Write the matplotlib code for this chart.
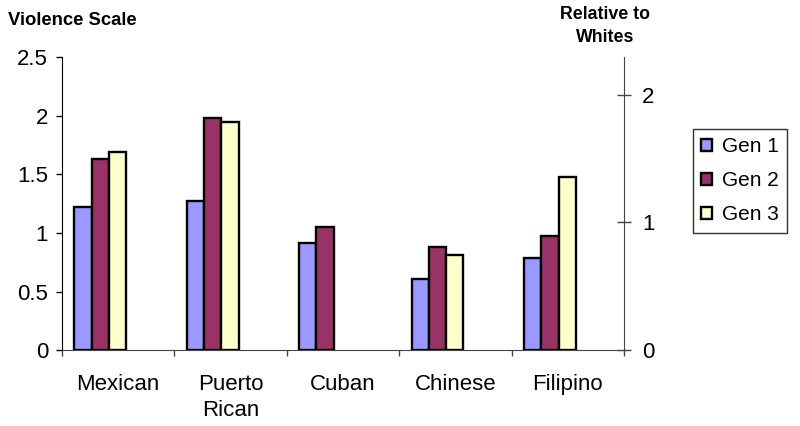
import numpy as np
import matplotlib
matplotlib.use('Agg')
import matplotlib.pyplot as plt

# ------------------------------------------------------------------ data
groups = ['Mexican', 'Puerto\nRican', 'Cuban', 'Chinese', 'Filipino']
series = ['Gen 1', 'Gen 2', 'Gen 3']
gen1 = [1.22, 1.27, 0.91, 0.61, 0.79]
gen2 = [1.63, 1.98, 1.05, 0.88, 0.97]
gen3 = [1.69, 1.95, np.nan, 0.81, 1.48]
left_ticks = [0, 0.5, 1, 1.5, 2, 2.5]
left_labels = ['0', '0.5', '1', '1.5', '2', '2.5']
right_ticks = [0, 1, 2]

colors = ['#9999FF', '#993366', '#FFFFCC']

# ------------------------------------------------------------------ figure
plt.rcParams['font.family'] = ['Liberation Sans', 'DejaVu Sans']
fig = plt.figure(figsize=(8, 4.26), dpi=100)
ax = fig.add_axes([0.0775, 0.178, 0.7025, 0.688])

x = np.arange(len(groups))
w = 0.154
offsets = [-0.313, -0.159, -0.005]
for vals, off, c, lab in zip([gen1, gen2, gen3], offsets, colors, series):
    ax.bar(x + off, vals, width=w, color=c, edgecolor='black', lw=1.7, label=lab)

ax.set_xlim(-0.5, len(groups) - 0.5)
ax.set_ylim(0, 2.5)
ax.set_yticks(left_ticks)
ax.set_yticklabels(left_labels)
ax.tick_params(axis='y', direction='out', length=4, width=1, pad=6, labelsize=16)

ax.set_xticks(np.arange(-0.5, len(groups)), minor=False)
ax.set_xticklabels([])
ax.set_xticks(x, minor=True)
ax.set_xticklabels(groups, minor=True, fontsize=16, linespacing=1.35)
ax.tick_params(axis='x', which='major', direction='out', length=4.5, width=1, color='#444444')
ax.tick_params(axis='x', which='minor', length=0, pad=17)

for s in ['top', 'right']:
    ax.spines[s].set_visible(False)
ax.spines['left'].set_color('black')
ax.spines['bottom'].set_color('#444444')

# right axis: relative to whites
ax2 = ax.twinx()
ax2.set_ylim(0, 2.294)
ax2.set_yticks(right_ticks)
ax2.set_yticklabels([str(t) for t in right_ticks])
ax2.tick_params(axis='y', direction='inout', length=10, width=1, pad=8,
                labelsize=16, color='#444444')
for s in ['top', 'left', 'bottom']:
    ax2.spines[s].set_visible(False)
ax2.spines['right'].set_color('#444444')

fig.text(0.01, 0.953, 'Violence Scale', fontsize=13.3, fontweight='bold', ha='left', va='center')
fig.text(0.756, 0.965, 'Relative to', fontsize=12.8, fontweight='bold', ha='center', va='center')
fig.text(0.756, 0.911, 'Whites', fontsize=12.8, fontweight='bold', ha='center', va='center')

leg = ax.legend(loc='upper left', bbox_to_anchor=(0.866, 0.697), bbox_transform=fig.transFigure,
                fontsize=15, frameon=True, fancybox=False, handlelength=0.5, handleheight=0.5,
                handletextpad=0.5, borderpad=0.4, labelspacing=0.72, borderaxespad=0)
leg.get_frame().set_edgecolor('black')
leg.get_frame().set_linewidth(1)

plt.savefig('out.png', dpi=100)
plt.close()
